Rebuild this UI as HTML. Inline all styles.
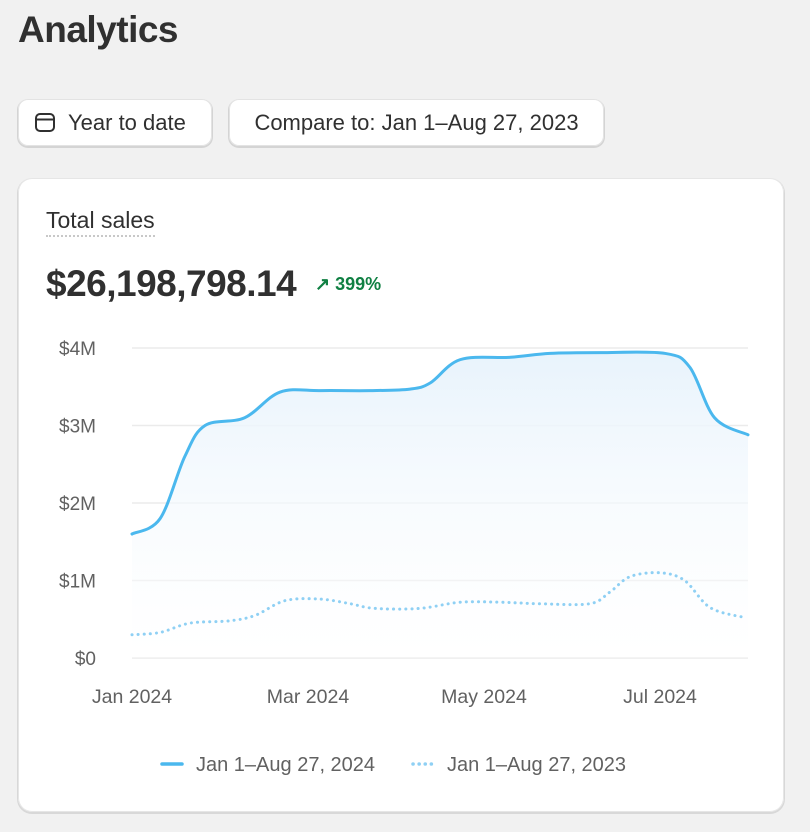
<!DOCTYPE html>
<html><head><meta charset="utf-8"><style>
body{margin:0;width:810px;height:832px;background:#f1f1f1;font-family:"Liberation Sans",sans-serif;position:relative;overflow:hidden;color:#303030}
h1{position:absolute;left:18px;top:9px;margin:0;font-size:37px;font-weight:bold;letter-spacing:-0.5px}
.btn{position:absolute;top:99px;height:47px;background:#fff;border-radius:10px;box-shadow:0 1px 0 1px #d4d4d4,inset 0 0 0 1px #e3e3e3;font-size:22px;line-height:47px;color:#303030}
.card{position:absolute;left:18px;top:178px;width:766px;height:634px;background:#fff;border-radius:14px;box-shadow:0 1px 0 1px #d8d8d8,inset 0 0 0 1px #e6e6e6}
</style></head><body>
<h1>Analytics</h1>
<div class="btn" style="left:18px;width:194px">
<svg style="position:absolute;left:16px;top:12px" width="22" height="22" viewBox="0 0 22 22"><rect x="2" y="3" width="18" height="17" rx="4" fill="none" stroke="#303030" stroke-width="2"/><line x1="2" y1="8.5" x2="20" y2="8.5" stroke="#303030" stroke-width="2"/></svg>
<span style="position:absolute;left:50px">Year to date</span></div>
<div class="btn" style="left:229px;width:375px;text-align:center">Compare to: Jan 1–Aug 27, 2023</div>
<div class="card">
<div style="position:absolute;left:28px;top:29px;font-size:23px;border-bottom:2px dotted #c8c8c8;padding-bottom:1px">Total sales</div>
<div style="position:absolute;left:28px;top:85px;font-size:37px;font-weight:bold;letter-spacing:-0.5px">$26,198,798.14</div>
<div style="position:absolute;left:297px;top:96px;font-size:18px;color:#108043;font-weight:bold">↗ 399%</div>
</div>
<svg id="chart" style="position:absolute;left:0;top:0" width="810" height="832">
<defs><linearGradient id="g" x1="0" y1="0" x2="0" y2="1"><stop offset="0" stop-color="#e8f3fc"/><stop offset="1" stop-color="#ffffff" stop-opacity="0.3"/></linearGradient></defs>
</svg>
<script>
const yTicks=[0,1,2,3,4];
const yTickLabels=["$0","$1M","$2M","$3M","$4M"];
const xTickMonths=[0,2,4,6];
const xTickLabels=["Jan 2024","Mar 2024","May 2024","Jul 2024"];
const months2024=[0,0.32,0.6,0.83,1.28,1.68,2.14,2.7,3.16,3.39,3.73,4.3,4.75,5.32,6.06,6.34,6.62,7.0];
const sales2024=[1.6,1.8,2.6,3.0,3.1,3.43,3.45,3.45,3.47,3.55,3.85,3.88,3.93,3.94,3.93,3.75,3.1,2.88];
const months2023=[0,0.32,0.66,1.11,1.4,1.74,2.14,2.48,2.76,3.27,3.73,4.18,4.64,5.2,5.43,5.66,6.0,6.28,6.57,6.97];
const sales2023=[0.3,0.33,0.45,0.48,0.55,0.74,0.76,0.7,0.64,0.64,0.72,0.72,0.7,0.7,0.85,1.05,1.1,1.0,0.65,0.52];
const X0=132,X1=748,Y0=658,PXM=88,PXV=77.5;
const sx=m=>X0+m*PXM, sy=v=>Y0-v*PXV;
const svg=document.getElementById('chart'),NS='http://www.w3.org/2000/svg';
function mk(t,a){const e=document.createElementNS(NS,t);for(const k in a)e.setAttribute(k,a[k]);svg.appendChild(e);return e;}
function path(xs,ys){const p=xs.map((m,i)=>[sx(m),sy(ys[i])]);let d='M'+p[0];for(let i=0;i<p.length-1;i++){const a=p[i-1]||p[i],b=p[i],c=p[i+1],e=p[i+2]||c;const c1=[b[0]+(c[0]-a[0])/6,b[1]+(c[1]-a[1])/6],c2=[c[0]-(e[0]-b[0])/6,c[1]-(e[1]-b[1])/6];d+=' C'+c1+' '+c2+' '+c;}return d;}
yTicks.forEach((v,i)=>{
const l=mk('line',{x1:X0,x2:X1,y1:sy(v),y2:sy(v),stroke:'#ebebeb','stroke-width':1.5});


const t=mk('text',{x:96,y:sy(v)+7,'text-anchor':'end','font-size':19,fill:'#616161','font-family':'Liberation Sans'});t.textContent=yTickLabels[i];


});
xTickMonths.forEach((m,i)=>{
const t=mk('text',{x:sx(m),y:703,'text-anchor':'middle','font-size':19.5,fill:'#616161','font-family':'Liberation Sans'});t.textContent=xTickLabels[i];


});
const d1=path(months2024,sales2024);
const area=mk('path',{d:d1+' L'+sx(months2024[months2024.length-1])+','+Y0+' L'+X0+','+Y0+' Z',fill:'url(#g)'});


const l2=mk('path',{d:path(months2023,sales2023),fill:'none',stroke:'#8fd0f4','stroke-width':3,'stroke-dasharray':'0.1 6','stroke-linecap':'round'});


const l1=mk('path',{d:d1,fill:'none',stroke:'#4bb8ee','stroke-width':3,'stroke-linecap':'round'});


const lg1=mk('line',{x1:162,x2:182,y1:764,y2:764,stroke:'#4bb8ee','stroke-width':3.5,'stroke-linecap':'round'});


const lt1=mk('text',{x:196,y:771,'font-size':20,fill:'#616161','font-family':'Liberation Sans'});lt1.textContent='Jan 1–Aug 27, 2024';


const lg2=mk('line',{x1:413,x2:433,y1:764,y2:764,stroke:'#8fd0f4','stroke-width':3.5,'stroke-dasharray':'0.1 6','stroke-linecap':'round'});


const lt2=mk('text',{x:447,y:771,'font-size':20,fill:'#616161','font-family':'Liberation Sans'});lt2.textContent='Jan 1–Aug 27, 2023';


</script>
</body></html>
